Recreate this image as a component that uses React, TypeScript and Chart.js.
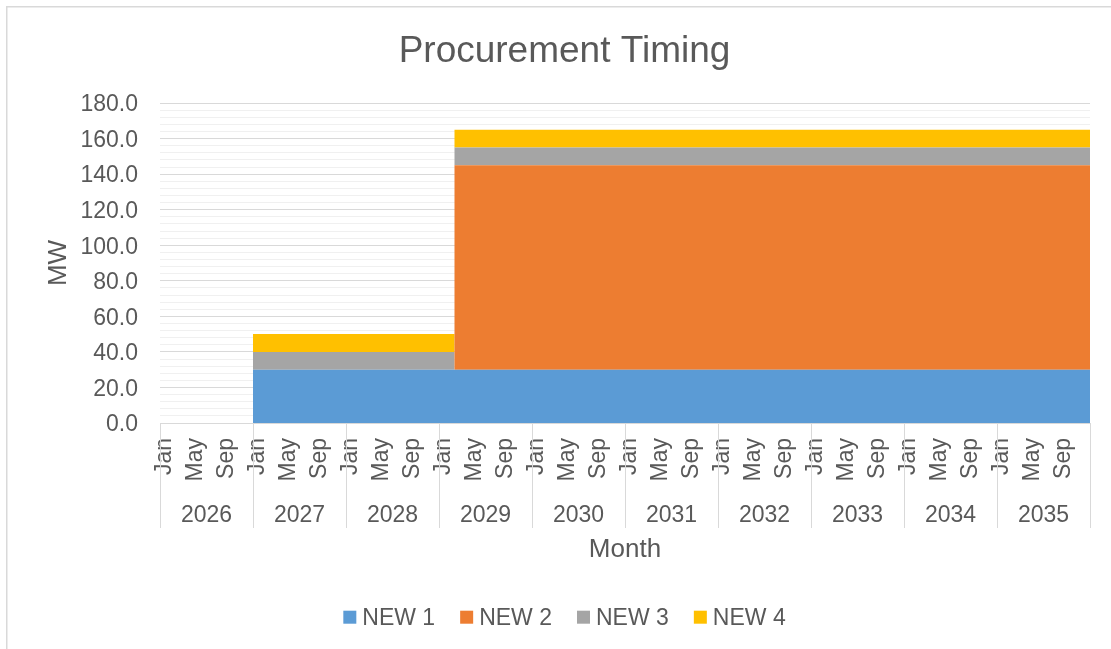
import React, { useEffect, useRef } from 'react';
import { Chart, registerables } from 'chart.js';

Chart.register(...registerables);

// ---------------- data ----------------
const chartTitle = 'Procurement Timing';
const xAxisTitle = 'Month';
const yAxisTitle = 'MW';
const years = [2026, 2027, 2028, 2029, 2030, 2031, 2032, 2033, 2034, 2035];
const monthNames = ['Jan', 'Feb', 'Mar', 'Apr', 'May', 'Jun', 'Jul', 'Aug', 'Sep', 'Oct', 'Nov', 'Dec'];
const shownMonths = ['Jan', 'May', 'Sep'];
const seriesNames = ['NEW 1', 'NEW 2', 'NEW 3', 'NEW 4'];
const seriesColors = ['#5B9BD5', '#ED7D31', '#A5A5A5', '#FFC000'];
const yMin = 0;
const yMax = 180;
const yMajorStep = 20;
const yMinorStep = 4;

// monthly values, one row per year (2026 ... 2035)
const new1 = [
  0, 0, 0, 0, 0, 0, 0, 0, 0, 0, 0, 0,
  30, 30, 30, 30, 30, 30, 30, 30, 30, 30, 30, 30,
  30, 30, 30, 30, 30, 30, 30, 30, 30, 30, 30, 30,
  30, 30, 30, 30, 30, 30, 30, 30, 30, 30, 30, 30,
  30, 30, 30, 30, 30, 30, 30, 30, 30, 30, 30, 30,
  30, 30, 30, 30, 30, 30, 30, 30, 30, 30, 30, 30,
  30, 30, 30, 30, 30, 30, 30, 30, 30, 30, 30, 30,
  30, 30, 30, 30, 30, 30, 30, 30, 30, 30, 30, 30,
  30, 30, 30, 30, 30, 30, 30, 30, 30, 30, 30, 30,
  30, 30, 30, 30, 30, 30, 30, 30, 30, 30, 30, 30,
];
const new2 = [
  0, 0, 0, 0, 0, 0, 0, 0, 0, 0, 0, 0,
  0, 0, 0, 0, 0, 0, 0, 0, 0, 0, 0, 0,
  0, 0, 0, 0, 0, 0, 0, 0, 0, 0, 0, 0,
  0, 0, 115, 115, 115, 115, 115, 115, 115, 115, 115, 115,
  115, 115, 115, 115, 115, 115, 115, 115, 115, 115, 115, 115,
  115, 115, 115, 115, 115, 115, 115, 115, 115, 115, 115, 115,
  115, 115, 115, 115, 115, 115, 115, 115, 115, 115, 115, 115,
  115, 115, 115, 115, 115, 115, 115, 115, 115, 115, 115, 115,
  115, 115, 115, 115, 115, 115, 115, 115, 115, 115, 115, 115,
  115, 115, 115, 115, 115, 115, 115, 115, 115, 115, 115, 115,
];
const new3 = [
  0, 0, 0, 0, 0, 0, 0, 0, 0, 0, 0, 0,
  10, 10, 10, 10, 10, 10, 10, 10, 10, 10, 10, 10,
  10, 10, 10, 10, 10, 10, 10, 10, 10, 10, 10, 10,
  10, 10, 10, 10, 10, 10, 10, 10, 10, 10, 10, 10,
  10, 10, 10, 10, 10, 10, 10, 10, 10, 10, 10, 10,
  10, 10, 10, 10, 10, 10, 10, 10, 10, 10, 10, 10,
  10, 10, 10, 10, 10, 10, 10, 10, 10, 10, 10, 10,
  10, 10, 10, 10, 10, 10, 10, 10, 10, 10, 10, 10,
  10, 10, 10, 10, 10, 10, 10, 10, 10, 10, 10, 10,
  10, 10, 10, 10, 10, 10, 10, 10, 10, 10, 10, 10,
];
const new4 = [
  0, 0, 0, 0, 0, 0, 0, 0, 0, 0, 0, 0,
  10, 10, 10, 10, 10, 10, 10, 10, 10, 10, 10, 10,
  10, 10, 10, 10, 10, 10, 10, 10, 10, 10, 10, 10,
  10, 10, 10, 10, 10, 10, 10, 10, 10, 10, 10, 10,
  10, 10, 10, 10, 10, 10, 10, 10, 10, 10, 10, 10,
  10, 10, 10, 10, 10, 10, 10, 10, 10, 10, 10, 10,
  10, 10, 10, 10, 10, 10, 10, 10, 10, 10, 10, 10,
  10, 10, 10, 10, 10, 10, 10, 10, 10, 10, 10, 10,
  10, 10, 10, 10, 10, 10, 10, 10, 10, 10, 10, 10,
  10, 10, 10, 10, 10, 10, 10, 10, 10, 10, 10, 10,
];
const seriesValues = [new1, new2, new3, new4];

// ---------------- layout / style ----------------
const W = 1117;
const H = 660;
const FONT = '"Liberation Sans", Arial, sans-serif';
const TEXT = '#595959';
const LINE = '#d9d9d9';
const MINOR = '#f0f0f0';

const monthLabels: string[] = [];
years.forEach(() => monthNames.forEach((m) => monthLabels.push(m)));
const nMonths = monthLabels.length;

const decorPlugin = {
  id: 'decor',
  beforeDraw(chart: any) {
    const { ctx } = chart;
    ctx.save();
    ctx.fillStyle = '#ffffff';
    ctx.fillRect(0, 0, W, H);
    ctx.strokeStyle = LINE;
    ctx.lineWidth = 1.5;
    ctx.strokeRect(0.75, 0.75, W - 1.5, H - 1.5);
    ctx.restore();
  },
  afterDraw(chart: any) {
    const { ctx, chartArea } = chart;
    const xs = chart.scales.x;
    ctx.save();
    // year separators and year labels
    ctx.strokeStyle = LINE;
    ctx.lineWidth = 1;
    for (let k = 0; k <= years.length; k++) {
      const px = Math.round(xs.getPixelForValue(k * 12)) + 0.5;
      ctx.beginPath();
      ctx.moveTo(px, chartArea.bottom);
      ctx.lineTo(px, 522);
      ctx.stroke();
    }
    ctx.fillStyle = TEXT;
    ctx.font = `23px ${FONT}`;
    ctx.textAlign = 'center';
    ctx.textBaseline = 'alphabetic';
    years.forEach((y, k) => {
      const cx = (xs.getPixelForValue(k * 12) + xs.getPixelForValue((k + 1) * 12)) / 2;
      ctx.fillText(String(y), cx, 515.5);
    });
    // x axis title
    ctx.font = `26px ${FONT}`;
    ctx.fillText(xAxisTitle, (chartArea.left + chartArea.right) / 2, 550.5);
    // y axis title
    ctx.save();
    ctx.translate(60, (chartArea.top + chartArea.bottom) / 2);
    ctx.rotate(-Math.PI / 2);
    ctx.textAlign = 'center';
    ctx.textBaseline = 'alphabetic';
    ctx.fillText(yAxisTitle, 0, 0);
    ctx.restore();
    // chart title
    ctx.font = `37px ${FONT}`;
    ctx.textAlign = 'center';
    ctx.fillText(chartTitle, W / 2, 55.7);
    // legend
    ctx.font = `23px ${FONT}`;
    ctx.textAlign = 'left';
    const box = 13;
    const gapBox = 6;
    const gapItem = 25;
    const widths = seriesNames.map((n) => box + gapBox + ctx.measureText(n).width);
    const total = widths.reduce((a, b) => a + b, 0) + gapItem * (seriesNames.length - 1);
    let x = W / 2 - total / 2;
    seriesNames.forEach((n, i) => {
      ctx.fillStyle = seriesColors[i];
      ctx.fillRect(x, 604.7, box, box);
      ctx.fillStyle = TEXT;
      ctx.fillText(n, x + box + gapBox, 619);
      x += widths[i] + gapItem;
    });
    ctx.restore();
  },
};

export default function App() {
  const ref = useRef<HTMLCanvasElement | null>(null);

  useEffect(() => {
    if (!ref.current) return;
    const datasets = seriesValues.map((vals, si) => {
      const pts = vals.map((v, i) => ({ x: i, y: v }));
      pts.push({ x: nMonths, y: vals[vals.length - 1] });
      return {
        label: seriesNames[si],
        data: pts,
        backgroundColor: seriesColors[si],
        borderColor: seriesColors[si],
        borderWidth: 0,
        pointRadius: 0,
        pointHoverRadius: 0,
        stepped: true,
        fill: si === 0 ? 'origin' : '-1',
      };
    });

    const chart = new Chart(ref.current, {
      type: 'line',
      data: { datasets },
      plugins: [decorPlugin],
      options: {
        animation: false,
        responsive: false,
        maintainAspectRatio: false,
        devicePixelRatio: 1,
        layout: { padding: { left: 0, right: W - 1084, top: 97, bottom: 0 } },
        plugins: {
          legend: { display: false },
          title: { display: false },
          tooltip: { enabled: false },
        },
        scales: {
          x: {
            type: 'linear',
            min: 0,
            max: nMonths,
            grid: { display: false, drawTicks: false },
            border: { display: true, color: LINE, width: 1 },
            afterBuildTicks: (scale: any) => {
              const t: any[] = [];
              monthLabels.forEach((m, i) => {
                if (shownMonths.includes(m)) t.push({ value: i + 0.5 });
              });
              scale.ticks = t;
            },
            afterFit: (scale: any) => {
              scale.height = H - 417;
            },
            ticks: {
              autoSkip: false,
              minRotation: 90,
              maxRotation: 90,
              padding: 15,
              labelOffset: 1,
              color: TEXT,
              font: { family: FONT, size: 23 },
              callback: (value: any) => monthLabels[Math.floor(Number(value))] ?? '',
            },
          },
          y: {
            stacked: true,
            min: yMin,
            max: yMax,
            border: { display: false },
            grid: {
              drawTicks: false,
              lineWidth: 1,
              color: (c: any) =>
                Math.round(c.tick?.value ?? 0) % yMajorStep === 0 ? LINE : MINOR,
            },
            afterFit: (scale: any) => {
              scale.width = 154;
            },
            ticks: {
              stepSize: yMinorStep,
              autoSkip: false,
              padding: 22,
              labelOffset: 2,
              color: TEXT,
              font: { family: FONT, size: 23 },
              callback: (v: any) => {
                const n = Number(v);
                return Math.round(n) % yMajorStep === 0 ? n.toFixed(1) : '';
              },
            },
          },
        },
      } as any,
    });
    return () => chart.destroy();
  }, []);

  return (
    <div
      style={{
        position: 'fixed',
        left: 0,
        top: 0,
        width: 1111,
        height: 649,
        overflow: 'hidden',
        background: '#ffffff',
      }}
    >
      <canvas
        ref={ref}
        width={W}
        height={H}
        style={{ position: 'absolute', left: 6, top: 6, width: W, height: H }}
      />
    </div>
  );
}
